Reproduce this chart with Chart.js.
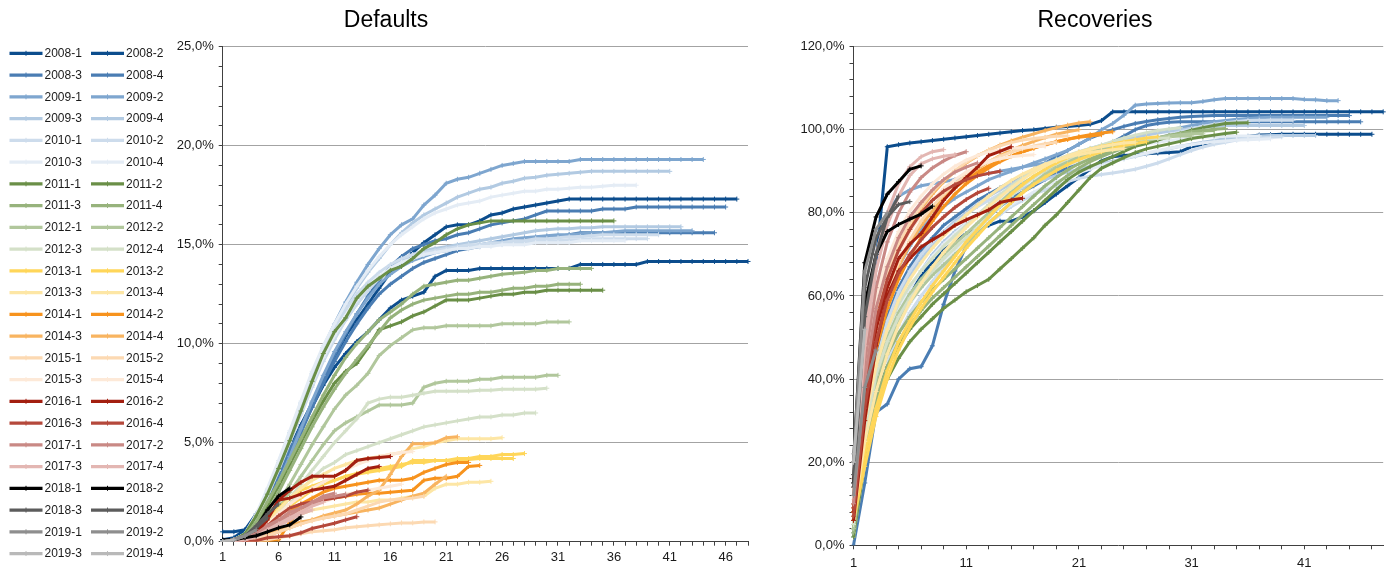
<!DOCTYPE html>
<html>
<head>
<meta charset="utf-8">
<script src="https://cdn.jsdelivr.net/npm/chart.js@4/dist/chart.umd.min.js"></script>
<style>
  html, body { margin: 0; padding: 0; background: #fff; }
  #wrap { position: relative; width: 1392px; height: 570px; overflow: hidden; }
  #cvDef { position: absolute; left: 0; top: 0; }
  #cvRec { position: absolute; left: 798px; top: 0; }
</style>
</head>
<body>
<div id="wrap">
  <canvas id="cvDef" width="772" height="570"></canvas>
  <canvas id="cvRec" width="594" height="570"></canvas>
</div>
<script>
// Vintages (origination year, quarter 1-4) and per-year line colours
const years = [2008, 2009, 2010, 2011, 2012, 2013, 2014, 2015, 2016, 2017, 2018, 2019];
const colorQ12 = ['#0c4d8d', '#7ea6cf', '#cddcec', '#6a8f47', '#b1c79c', '#ffd659', '#f7931e', '#fcd9b2', '#a31f10', '#c98985', '#000000', '#8e8e8e'];
const colorQ34 = ['#4a7db3', '#b2cae2', '#e4ecf5', '#97b37c', '#d4e0c8', '#fde6a5', '#f8b460', '#fde9d8', '#b5483b', '#e3b6b2', '#5c5c5c', '#b9b9b9'];

// Quarters since origination (x axis categories)
const xLabels = [];
for (let n = 1; n <= 48; n++) xLabels.push(String(n));

// Cumulative default rate, % (one row per quarter of the vintage year)
const def2008 = [
  [0.5,0.5,0.6,1.2,2.2,3.2,4.4,5.6,6.8,7.9,8.8,9.5,10.1,10.6,11.2,11.8,12.2,12.4,12.6,13.4,13.7,13.7,13.7,13.8,13.8,13.8,13.8,13.8,13.8,13.8,13.8,13.8,14.0,14.0,14.0,14.0,14.0,14.0,14.15,14.15,14.15,14.15,14.15,14.15,14.15,14.15,14.15,14.15],
  [0.1,0.2,0.6,1.4,2.4,3.5,4.7,5.9,7.0,8.1,9.2,10.4,11.2,12.0,12.8,13.6,14.0,14.6,15.1,15.5,15.9,16.0,16.0,16.2,16.5,16.6,16.8,16.9,17.0,17.1,17.2,17.3,17.3,17.3,17.3,17.3,17.3,17.3,17.3,17.3,17.3,17.3,17.3,17.3,17.3,17.3,17.3],
  [0,0.1,0.4,1.2,2.2,3.4,4.6,5.8,7.0,8.2,9.4,10.5,11.5,12.4,13.2,13.9,14.4,14.8,15.0,15.2,15.3,15.5,15.6,15.8,16.0,16.1,16.2,16.3,16.5,16.7,16.7,16.7,16.7,16.7,16.8,16.8,16.8,16.9,16.9,16.9,16.9,16.9,16.9,16.9,16.9,16.9],
  [0,0.1,0.3,1.0,2.0,3.1,4.3,5.5,6.8,8.0,9.1,10.1,11.0,11.8,12.5,13.0,13.4,13.8,14.1,14.3,14.5,14.7,14.8,14.9,15.0,15.1,15.2,15.2,15.3,15.4,15.4,15.5,15.6,15.6,15.6,15.6,15.6,15.6,15.6,15.6,15.6,15.6,15.6,15.6,15.6]
];
const def2009 = [
  [0,0.1,0.4,1.2,2.5,3.9,5.4,6.9,8.4,9.8,11.0,12.1,13.1,14.0,14.8,15.5,16.0,16.3,17.0,17.5,18.1,18.3,18.4,18.6,18.8,19.0,19.1,19.2,19.2,19.2,19.2,19.2,19.3,19.3,19.3,19.3,19.3,19.3,19.3,19.3,19.3,19.3,19.3,19.3],
  [0,0.05,0.2,0.8,1.8,3.0,4.3,5.7,7.1,8.4,9.6,10.6,11.5,12.3,13.0,13.5,13.9,14.2,14.4,14.6,14.7,14.8,14.9,15.0,15.1,15.2,15.3,15.35,15.4,15.45,15.5,15.5,15.55,15.6,15.6,15.65,15.7,15.7,15.7,15.7,15.7,15.7,15.7],
  [0,0.1,0.3,1.1,2.3,3.7,5.1,6.5,7.9,9.2,10.3,11.2,12.0,12.7,13.3,13.8,14.2,14.5,14.7,14.8,14.9,15.0,15.1,15.2,15.3,15.4,15.5,15.6,15.7,15.75,15.8,15.8,15.85,15.85,15.9,15.9,15.9,15.9,15.9,15.9,15.9,15.9],
  [0,0.1,0.4,1.3,2.6,4.0,5.5,7.0,8.5,9.8,10.9,11.9,12.8,13.6,14.3,15.0,15.6,16.1,16.5,16.8,17.1,17.4,17.6,17.8,17.9,18.1,18.2,18.35,18.4,18.5,18.55,18.6,18.65,18.7,18.7,18.7,18.7,18.7,18.7,18.7,18.7]
];
const def2010 = [
  [0,0.1,0.4,1.3,2.6,4.0,5.5,7.0,8.4,9.7,10.8,11.7,12.5,13.1,13.6,14.0,14.3,14.5,14.6,14.7,14.8,14.9,15.0,15.0,15.1,15.1,15.2,15.2,15.3,15.3,15.35,15.4,15.4,15.45,15.5,15.5,15.5,15.5,15.5,15.5],
  [0,0.1,0.3,1.1,2.3,3.6,5.0,6.4,7.8,9.1,10.2,11.2,12.0,12.7,13.3,13.8,14.1,14.3,14.5,14.6,14.7,14.8,14.9,14.9,15.0,15.0,15.1,15.1,15.2,15.2,15.2,15.25,15.25,15.3,15.3,15.3,15.3,15.3,15.3],
  [0,0.1,0.4,1.4,2.7,4.1,5.6,7.1,8.6,9.9,11.0,12.0,12.9,13.7,14.4,15.0,15.5,15.9,16.3,16.6,16.8,17.0,17.1,17.2,17.4,17.5,17.6,17.7,17.7,17.8,17.8,17.85,17.9,17.9,17.95,18.0,18.0,18.0],
  [0,0.1,0.3,1.2,2.4,3.8,5.2,6.6,8.0,9.3,10.4,11.4,12.2,12.9,13.4,13.8,14.1,14.3,14.5,14.6,14.7,14.8,14.8,14.9,14.9,15.0,15.0,15.0,15.1,15.1,15.1,15.1,15.2,15.2,15.2,15.2,15.2]
];
const def2011 = [
  [0,0.1,0.4,1.3,2.4,3.7,5.1,6.6,8.1,9.5,10.6,11.3,12.3,12.9,13.3,13.7,13.9,14.3,14.8,15.1,15.5,15.8,16.0,16.1,16.2,16.2,16.2,16.2,16.2,16.2,16.2,16.2,16.2,16.2,16.2,16.2],
  [0,0.1,0.3,0.9,1.8,2.8,3.9,5.0,6.1,7.1,8.0,8.6,9.0,9.8,10.7,10.9,11.1,11.4,11.6,11.9,12.2,12.2,12.2,12.3,12.4,12.5,12.5,12.6,12.6,12.7,12.7,12.7,12.7,12.7,12.7],
  [0,0.1,0.3,1.0,2.0,3.0,4.1,5.2,6.3,7.4,8.4,9.3,10.0,10.6,11.2,11.6,12.0,12.5,12.9,13.0,13.1,13.2,13.2,13.3,13.4,13.5,13.55,13.6,13.7,13.7,13.8,13.8,13.8,13.8],
  [0,0.05,0.2,0.7,1.5,2.5,3.6,4.7,5.8,6.8,7.7,8.5,9.2,9.9,10.6,11.3,11.7,12.0,12.2,12.3,12.4,12.5,12.5,12.6,12.6,12.7,12.8,12.8,12.9,12.9,13.0,13.0,13.0]
];
const def2012 = [
  [0,0.05,0.2,0.6,1.2,2.0,2.9,3.9,4.9,5.8,6.7,7.4,7.9,8.5,9.4,9.9,10.3,10.7,10.8,10.8,10.9,10.9,10.9,10.9,10.9,11.0,11.0,11.0,11.0,11.1,11.1,11.1],
  [0,0.05,0.2,0.5,1.0,1.7,2.5,3.3,4.1,4.9,5.6,6.0,6.3,6.6,6.9,6.9,6.9,7.0,7.8,8.0,8.1,8.1,8.1,8.2,8.2,8.3,8.3,8.3,8.3,8.4,8.4],
  [0,0.05,0.15,0.45,0.9,1.5,2.2,2.9,3.6,4.3,5.0,5.6,6.2,7.0,7.2,7.3,7.3,7.4,7.5,7.6,7.6,7.6,7.6,7.65,7.65,7.7,7.7,7.7,7.7,7.75],
  [0,0.05,0.15,0.4,0.8,1.3,1.9,2.6,3.2,3.7,4.0,4.4,4.6,4.8,5.0,5.2,5.4,5.6,5.8,5.9,6.0,6.1,6.2,6.3,6.3,6.4,6.4,6.5,6.5]
];
const def2013 = [
  [0,0.05,0.2,0.6,1.1,1.7,2.2,2.6,2.8,3.0,3.1,3.3,3.45,3.6,3.7,3.8,3.9,4.0,4.0,4.1,4.1,4.2,4.2,4.3,4.3,4.4,4.4,4.45],
  [0,0.05,0.15,0.4,0.8,1.3,1.8,2.2,2.6,2.9,3.1,3.3,3.4,3.5,3.6,3.7,3.8,4.1,4.1,4.1,4.1,4.1,4.15,4.2,4.2,4.2,4.2],
  [0,0.05,0.2,0.5,1.0,1.6,2.2,2.7,3.1,3.4,3.7,3.9,4.1,4.2,4.3,4.4,4.5,4.7,4.8,5.0,5.1,5.2,5.2,5.2,5.2,5.25],
  [0,0.05,0.1,0.3,0.6,0.9,1.2,1.4,1.6,1.7,1.8,1.9,2.0,2.0,2.1,2.1,2.2,2.3,2.3,2.7,2.9,2.9,3.0,3.0,3.05]
];
const def2014 = [
  [0,0,0,0,0.05,0.1,1.0,1.6,1.9,2.1,2.2,2.3,2.4,2.45,2.45,2.5,2.55,2.6,3.1,3.2,3.2,3.3,3.8,3.85],
  [0,0,0.05,0.2,0.5,1.0,1.5,1.9,2.2,2.5,2.7,2.8,2.9,3.0,3.1,3.1,3.1,3.2,3.5,3.7,3.9,4.0,4.0],
  [0,0,0.05,0.1,0.3,0.5,0.7,0.9,1.1,1.3,1.45,1.6,1.9,2.3,2.6,3.4,4.3,4.95,4.95,5.0,5.25,5.3],
  [0,0,0.05,0.15,0.35,0.6,0.8,1.0,1.1,1.2,1.3,1.4,1.5,1.6,1.7,1.9,2.1,2.3,2.45,2.9,3.3]
];
const def2015 = [
  [0,0,0,0.05,0.1,0.2,0.3,0.4,0.5,0.55,0.6,0.7,0.75,0.8,0.85,0.9,0.95,0.95,1.0,1.0],
  [0,0,0.05,0.15,0.3,0.5,0.7,0.9,1.05,1.2,1.3,1.4,1.6,1.8,2.0,2.1,2.15,2.2,2.3],
  [0,0.05,0.2,0.5,0.9,1.4,1.9,2.3,2.7,3.0,3.3,3.6,3.9,4.1,4.3,4.4,4.5,4.55],
  [0,0.05,0.15,0.35,0.6,0.9,1.2,1.5,1.8,2.0,2.2,2.4,2.5,2.6,2.7,2.8,2.9]
];
const def2016 = [
  [0,0.05,0.2,0.5,1.2,2.1,2.6,3.0,3.3,3.3,3.3,3.6,4.1,4.2,4.25,4.3],
  [0,0.05,0.1,0.4,1.1,2.1,2.2,2.4,2.6,2.7,2.8,3.1,3.4,3.7,3.8],
  [0,0.05,0.1,0.3,0.8,1.3,1.7,1.9,2.0,2.1,2.2,2.3,2.5,2.6],
  [0,0,0,0.05,0.2,0.25,0.3,0.45,0.67,0.8,0.93,1.1,1.26]
];
const def2017 = [
  [0,0.05,0.2,0.4,0.8,1.1,1.5,1.7,1.9,2.2,2.3,2.4],
  [0,0.05,0.15,0.4,0.7,1.0,1.3,1.7,2.0,2.3,2.45],
  [0,0.05,0.1,0.3,0.6,0.9,1.2,1.5,1.8,2.0],
  [0,0.05,0.1,0.25,0.5,0.8,1.1,1.4,1.6]
];
const def2018 = [
  [0.1,0.1,0.2,0.3,0.5,0.7,0.85,1.25],
  [0,0.1,0.25,0.7,1.6,2.3,2.7],
  [0,0.1,0.3,0.8,1.4,1.9],
  [0,0.1,0.3,0.7,1.2]
];
const def2019 = [
  [0,0.1,0.3,0.6],
  [0,0.1,0.3],
  [0,0.1],
  [0]
];

// Cumulative recovery rate, %
const rec2008 = [
  [10,40,68,95.9,96.4,96.8,97.1,97.4,97.7,98.0,98.3,98.6,98.9,99.2,99.5,99.8,100.0,100.3,100.6,100.8,101.0,101.3,102.2,104.3,104.3,104.3,104.3,104.3,104.3,104.3,104.3,104.3,104.3,104.3,104.3,104.3,104.3,104.3,104.3,104.3,104.3,104.3,104.3,104.3,104.3,104.3,104.3,104.3],
  [5,30,40,48,55,60,65,68,71,73,75,76,77,78,78,79,80.5,82.5,84.5,86.5,88.5,90.5,92.5,93.5,93.8,94.0,94.2,94.4,94.5,94.7,95.9,96.5,97.2,97.7,98.1,98.4,98.7,98.8,98.9,98.9,98.9,98.9,98.9,98.9,98.9,98.9,98.9],
  [0,15,32,34,40,42.5,43,48,58,66,72,76,79,81.5,83.5,85,86.5,88,89.5,91,92.5,94,95.5,97,98.5,100,101,101.5,101.8,101.9,101.9,101.9,101.9,101.9,101.9,101.9,101.9,101.9,101.9,101.9,101.9,101.9,101.9,101.9,101.9,101.9],
  [5,30,45,55,62,67,71,74,77,79,81,83,84.5,86,87.5,89,90.5,92,93.5,95,96.5,98,99,100,100.8,101.5,102,102.4,102.7,103,103.2,103.3,103.4,103.4,103.4,103.4,103.4,103.4,103.4,103.4,103.4,103.4,103.4,103.4,103.4]
];
const rec2009 = [
  [8,35,50,60,67,72,76,79,81.5,83.5,85,86.5,88,89,90,91,92,93,94,95,96.5,98,100,101.5,103.5,105.9,106.2,106.3,106.4,106.5,106.5,106.8,107.2,107.5,107.5,107.5,107.5,107.5,107.5,107.5,107.3,107.2,107.0,107.0],
  [10,50,70,80,84,85.5,86.5,87,87.5,88,88.5,89,89.5,90,90.5,91,91.5,92,92.8,93.6,94.4,95.2,96,96.8,97.5,98.2,98.9,99.5,100,100.5,101,101.5,101.9,102.2,102.5,102.7,102.9,103,103,103,103,103,103],
  [3,25,40,50,57,62,66,70,73,75.5,77.5,79.5,81.5,83,84.5,86,87,88,89,89.8,90.5,91.2,91.8,92.4,93,93.6,94.2,94.8,95.4,96,96.5,97,97.4,97.8,98.1,98.3,98.5,98.6,98.6,98.6,98.6,98.6],
  [4,28,43,53,60,65,69,72.5,75.5,78,80,82,84,85.5,87,88.5,90,91.3,92.5,93.6,94.6,95.5,96.3,97,97.6,98.2,98.7,99.2,99.6,100,100.3,100.6,100.8,101,101,101,101,101,101,101,101]
];
const rec2010 = [
  [5,30,44,54,61,66,70,73,75.5,77.5,79.5,81.5,83,84.5,86,87.3,88.5,89.6,90.6,91.5,92.4,93.2,94,94.8,95.6,96.4,97.2,98,98.8,99.5,100.2,100.8,101.3,101.7,102,102.2,102.3,102.3,102.3,102.3],
  [2,20,34,44,51,56,60,63.5,67,70,72.5,75,77.5,79.5,81.5,83,84.5,85.5,86.5,87.5,88.3,88.8,89.2,89.6,90,90.5,91.2,92,93,94,95,95.8,96.5,97,97.5,97.8,98,98.2,98.3],
  [3,22,36,46,53,58,62,65.5,68.5,71,73.5,76,78,80,82,83.5,85,86.3,87.5,88.6,89.6,90.5,91.4,92.2,93,93.7,94.4,95,95.5,96,96.4,96.8,97.1,97.3,97.5,97.6,97.7,97.8],
  [4,26,40,50,57,62,66,69.5,72.5,75,77.5,79.5,81.5,83.3,85,86.5,88,89.3,90.5,91.6,92.6,93.5,94.3,95,95.6,96.1,96.6,97,97.4,97.7,98,98.2,98.3,98.4,98.5,98.5,98.5]
];
const rec2011 = [
  [4,24,36,43,48,52,55,58,60.5,63,65.5,68,70.5,73,75.5,78,80.5,83,85.5,88,89.8,91.1,92.3,93.5,94.8,96,96.7,97.5,98.3,99.1,99.9,100.5,101,101.5,101.6,101.7],
  [2,20,33,40,45,49,52,54.5,57,59,61,62.5,64,66.5,69,71.5,74,77,79.5,82.5,85.5,88.5,90.7,92,93.3,94.5,95.4,96,96.6,97.2,97.9,98.3,98.7,99.1,99.4],
  [4,25,38,46,51,55,58.5,61.5,64,66.5,69,71.5,74,76.5,79,81.5,84,86.5,88.5,90.3,91.8,93,94,95,96,96.8,97.5,98.1,98.6,99.1,99.5,99.8,100.1,100.3],
  [3,22,35,43,49,53,56.5,59.5,62,64.5,67,69.5,72,74.5,77,79.5,82,84.5,87,89,90.8,92.3,93.5,94.6,95.6,96.5,97.3,98,98.6,99.1,99.5,99.7,99.8]
];
const rec2012 = [
  [4,26,40,48,54,58.5,62,65,67.5,70,72.5,75,77.5,80,82.5,85,87.3,89.3,90.8,92,93,94,94.8,95.6,96.3,97,97.6,98.1,98.5,98.8,99,99],
  [5,28,42,50,56,60.5,64,67,70,72.5,75,77.5,80,82.5,85,87,88.8,90.3,91.5,92.6,93.6,94.5,95.3,96,96.6,97.1,97.6,98,98.3,98.5,98.5],
  [5,27,41,49,55,59.5,63,66,69,71.5,74,76.5,79,81.5,84,86.5,88.5,90.3,91.8,93,94.2,95.3,96.3,97.2,98,98.7,99.3,99.8,100.2,100.5],
  [6,30,44,52,58,62.5,66,69,72,74.5,77,79.5,82,84.3,86.5,88.5,90.2,91.6,92.8,93.8,94.7,95.5,96.2,96.8,97.3,97.6,97.8,97.9,98]
];
const rec2013 = [
  [8,22,33,42,49,54,58.5,62.5,66,69.5,73,76,79,82,84.5,86.8,88.8,90.5,92,93.3,94.5,95.3,96,96.6,97.1,97.6,98,98.3],
  [6,19,31,40,47,52.5,57,61,64.5,68,71.5,74.5,77.5,80,82.5,84.8,86.8,88.6,90.2,91.6,92.8,93.8,94.7,95.5,96.2,96.7,97.1],
  [7,25,37,46,53,58.5,63,67,70.5,73.5,76.5,79,81.5,83.8,86,88,89.8,91.3,92.6,93.7,94.6,95.3,95.9,96.4,96.8,97],
  [9,30,43,52,59,64,68,71.5,74.5,77,79.5,81.8,84,86,87.8,89.3,90.6,91.7,92.6,93.4,94,94.5,94.9,95.2,95.5]
];
const rec2014 = [
  [10,38,52,61,68,73,77,80.5,83.5,86,88,89.8,91.3,92.6,93.7,94.7,95.6,96.4,97.1,97.7,98.3,98.8,99.2,99.5],
  [8,33,47,57,64,69.5,74,78,81.5,84.5,87,89,90.8,92.3,93.6,94.7,95.6,96.4,97.1,97.7,98.2,98.5,98.8],
  [12,40,55,64,71,76.5,81,84.5,87.5,90,92,93.7,95.1,96.3,97.3,98.2,99,99.8,100.5,101.1,101.6,101.9],
  [10,36,50,60,67,72.5,77,80.5,83.5,86.2,88.6,90.6,92.3,93.8,95.1,96.2,97.2,98.1,98.9,99.5,100]
];
const rec2015 = [
  [12,42,57,66,72.5,77.5,81.5,85,87.8,90.2,92.2,93.8,95.1,96.1,96.9,97.5,97.9,98.2,98.4,98.5],
  [10,37,51,61,68,73.5,78,81.5,84.5,87,89.1,90.9,92.4,93.6,94.6,95.4,96.1,96.6,97],
  [14,45,60,69,75.5,80.5,84,87,89.3,91.2,92.7,93.8,94.6,95.1,95.5,95.7,95.9,96],
  [11,38,53,63,70,75.5,79.5,83,85.8,88,89.8,91.2,92.3,93,93.5,93.8,94]
];
const rec2016 = [
  [6,30,48,60,66,69,71.8,73.5,75.1,77,78.3,79.5,80.7,82.5,83.1,83.5],
  [8,35,52,62,69,72.5,75,79,83,86,88.5,91,93.8,94.8,95.9],
  [9,38,54,64,71,76,80,83,85.2,86.8,88,88.9,89.5,90],
  [7,33,49,59,65.5,70,73.5,76.5,79,81.3,83.2,84.8,85.9]
];
const rec2017 = [
  [10,40,57,67,74,79,82.5,85.5,88,89.8,91,92],
  [12,44,62,73,80,85,88.5,90.8,92.5,93.8,94.7],
  [14,48,66,77,84,89,91.8,93,93.6,94],
  [16,52,70,80,87,91.1,93.5,94.7,95.2]
];
const rec2018 = [
  [15,58,70,75.5,77.2,78.5,79.7,81.6],
  [20,68,79,84.5,87.5,90.5,91.3],
  [17,62,74,79,82,82.7],
  [14,55,70,79,84]
];
const rec2019 = [
  [20,66,76,80],
  [12,38,47],
  [20,52],
  [22]
];

const defaultsByYear = [def2008, def2009, def2010, def2011, def2012, def2013, def2014, def2015, def2016, def2017, def2018, def2019];
const recoveriesByYear = [rec2008, rec2009, rec2010, rec2011, rec2012, rec2013, rec2014, rec2015, rec2016, rec2017, rec2018, rec2019];

const FONT = '"Liberation Sans", Arial, Helvetica, sans-serif';
const AXIS_COLOR = '#404040';
const GRID_COLOR = '#a3a3a3';
const TEXT_COLOR = '#1a1a1a';

function buildSets(byYear) {
  const sets = [];
  years.forEach((yr, yi) => {
    byYear[yi].forEach((vals, qi) => {
      const idx = yi * 4 + qi;
      const col = qi < 2 ? colorQ12[yi] : colorQ34[yi];
      sets.push({
        label: yr + '-' + (qi + 1),
        data: vals,
        borderColor: col,
        backgroundColor: col,
        borderWidth: 3,
        pointStyle: 'cross',
        pointRadius: 2.5,
        pointBorderWidth: 1,
        pointBorderColor: col,
        pointHoverRadius: 2.5,
        tension: 0,
        fill: false,
        order: 100 - idx   // later vintages drawn above earlier ones
      });
    });
  });
  return sets;
}

const pct = v => v.toFixed(1).replace('.', ',') + '%';

function xAxis(labelEvery, tickEvery, height, pad) {
  return {
    type: 'category',
    offset: false,
    grid: {
      drawOnChartArea: false,
      drawTicks: true,
      tickLength: 4,
      offset: false,
      tickColor: c => (c.index % tickEvery === 0 ? AXIS_COLOR : 'rgba(0,0,0,0)')
    },
    border: { display: true, color: AXIS_COLOR, width: 1 },
    ticks: {
      autoSkip: false,
      maxRotation: 0,
      minRotation: 0,
      padding: pad,
      color: TEXT_COLOR,
      font: { family: FONT, size: 13 },
      callback: (v, i) => (i % labelEvery === 0 ? xLabels[i] : '')
    },
    afterFit: s => { s.height = height; }
  };
}

function yAxis(max, step, labelEvery, width) {
  return {
    type: 'linear',
    position: 'left',
    min: 0,
    max: max,
    grid: {
      drawTicks: true,
      tickLength: 4,
      lineWidth: 1,
      tickColor: AXIS_COLOR,
      color: c => (c.tick && c.tick.value > 0 && c.tick.value % labelEvery === 0 ? GRID_COLOR : 'rgba(0,0,0,0)')
    },
    border: { display: true, color: AXIS_COLOR, width: 1 },
    ticks: {
      stepSize: step,
      autoSkip: false,
      maxTicksLimit: 1000,
      padding: 5,
      color: TEXT_COLOR,
      font: { family: FONT, size: 13 },
      callback: v => (v % labelEvery === 0 ? pct(v) : '')
    },
    afterFit: s => { s.width = width; }
  };
}

// Empty right-hand margin box, keeps the title centred over the whole panel
function rightMargin(width) {
  return {
    type: 'linear',
    position: 'right',
    min: 0,
    max: 1,
    grid: { display: false, drawTicks: false },
    border: { display: false },
    ticks: { display: false },
    afterFit: s => { s.width = width; }
  };
}

function titleOpts(text) {
  return {
    display: true,
    text: text,
    color: '#000',
    font: { family: FONT, size: 23, weight: 'normal', lineHeight: 1.2 },
    padding: { top: 7, bottom: 12 }
  };
}

// Two-column series key drawn beside the Defaults plot
const seriesKey = {
  id: 'seriesKey',
  afterDraw(chart) {
    const ctx = chart.ctx;
    const top = 53.3, rowH = 21.75, lineLen = 33;
    ctx.save();
    chart.data.datasets.forEach((ds, i) => {
      const row = Math.floor(i / 2);
      const x0 = (i % 2) ? 91 : 9.5;
      const y = top + row * rowH;
      ctx.strokeStyle = ds.borderColor;
      ctx.lineCap = 'butt';
      ctx.lineWidth = 3.3;
      ctx.beginPath();
      ctx.moveTo(x0, y);
      ctx.lineTo(x0 + lineLen, y);
      ctx.stroke();
      ctx.lineWidth = 1;
      ctx.beginPath();
      ctx.moveTo(x0 + lineLen / 2, y - 2.5);
      ctx.lineTo(x0 + lineLen / 2, y + 2.5);
      ctx.stroke();
      ctx.fillStyle = TEXT_COLOR;
      ctx.font = '12px ' + FONT;
      ctx.textAlign = 'left';
      ctx.textBaseline = 'middle';
      ctx.fillText(ds.label, x0 + lineLen + 2, y + 0.5);
    });
    ctx.restore();
  }
};

const common = {
  responsive: false,
  animation: false,
  events: [],
  layout: { padding: 0 },
  plugins: { legend: { display: false }, tooltip: { enabled: false } }
};

new Chart(document.getElementById('cvDef'), {
  type: 'line',
  data: { labels: xLabels, datasets: buildSets(defaultsByYear) },
  options: Object.assign({}, common, {
    plugins: Object.assign({}, common.plugins, { title: titleOpts('Defaults') }),
    scales: {
      x: xAxis(5, 1, 28.3, 4),
      y: yAxis(25, 1, 5, 222.7),
      margin: rightMargin(24)
    }
  }),
  plugins: [seriesKey]
});

new Chart(document.getElementById('cvRec'), {
  type: 'line',
  data: { labels: xLabels, datasets: buildSets(recoveriesByYear) },
  options: Object.assign({}, common, {
    plugins: Object.assign({}, common.plugins, { title: titleOpts('Recoveries') }),
    scales: {
      x: xAxis(10, 2, 24.7, 6),
      y: yAxis(120, 4, 20, 55.5),
      margin: rightMargin(8.8)
    }
  })
});
</script>
</body>
</html>
